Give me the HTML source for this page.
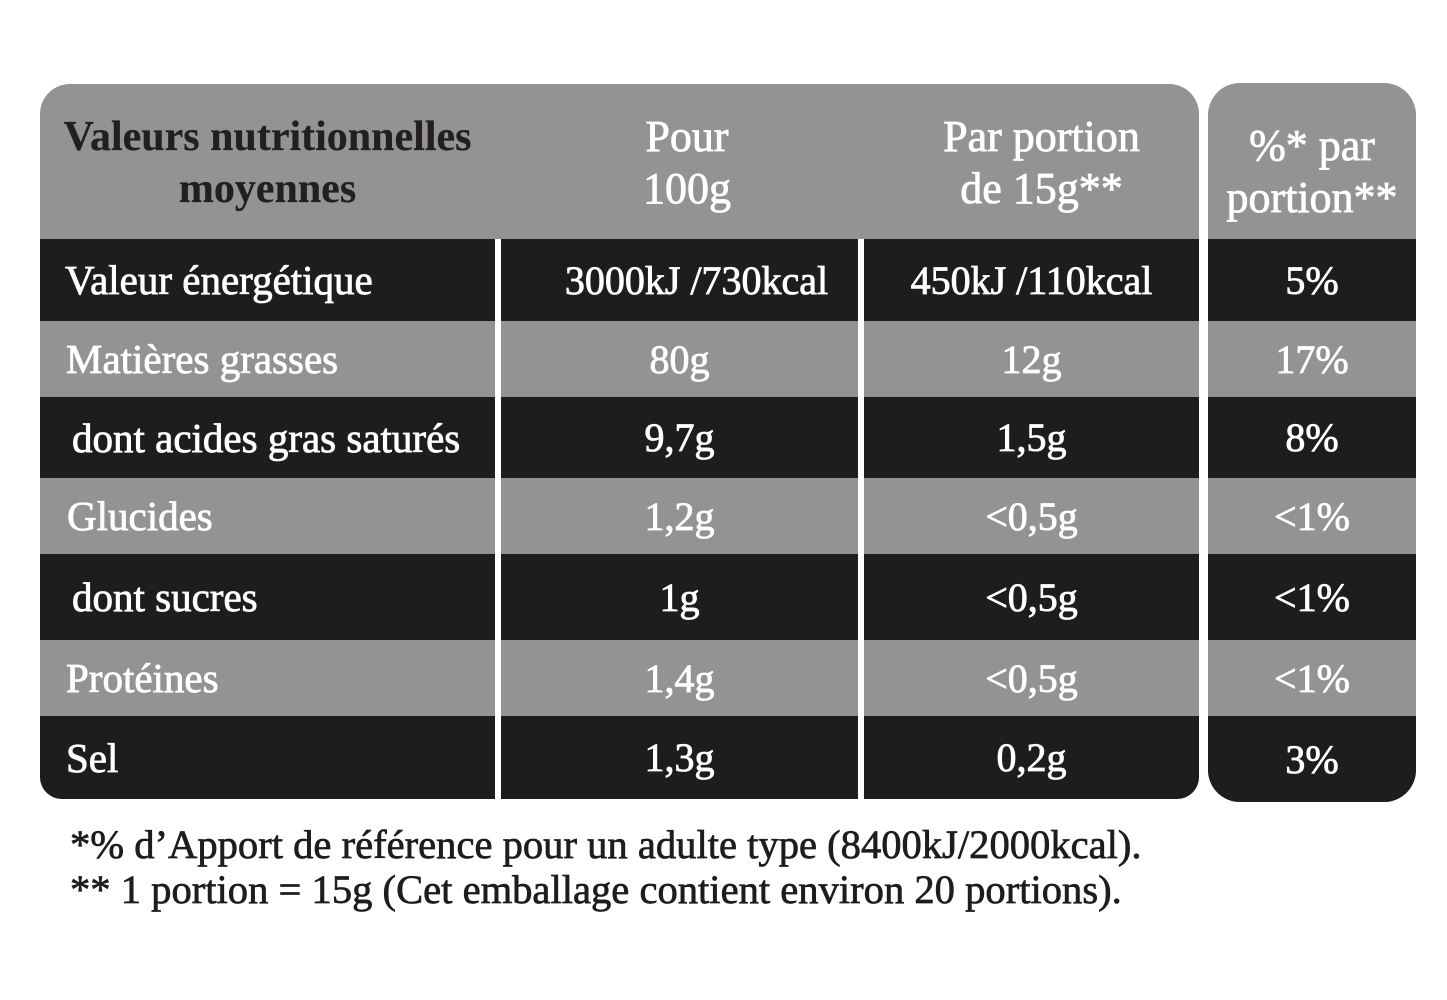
<!DOCTYPE html>
<html>
<head>
<meta charset="utf-8">
<style>
  html,body{margin:0;padding:0;background:#fff;}
  body{width:1447px;height:1000px;position:relative;overflow:hidden;
       font-family:"Liberation Serif","DejaVu Serif",serif;}
  .tbl{position:absolute;overflow:hidden;background:#939393;}
  .row{position:absolute;left:0;right:0;}
  .g{background:#939393;}
  .d{background:#1d1d1d;}
  .cell{position:absolute;top:0;bottom:0;display:flex;align-items:center;
        color:#fff;font-size:41px;white-space:nowrap;-webkit-text-stroke:0.8px #fff;}
  .c1{left:0;width:455px;}
  .c2{left:461px;width:357px;justify-content:center;font-size:40px;}
  .c3{left:824px;width:335px;justify-content:center;font-size:40px;}
  .c4{left:0;right:0;justify-content:center;font-size:40px;}
  .vdiv{position:absolute;background:#fff;width:6px;}
  .hdr{position:absolute;text-align:center;line-height:52px;white-space:nowrap;}
  .foot{position:absolute;left:70px;top:822px;font-size:40.6px;line-height:45px;color:#1d1d1d;
        white-space:nowrap;-webkit-text-stroke:0.7px #1d1d1d;}
</style>
</head>
<body>

<!-- Main table -->
<div class="tbl" style="left:40px;top:84px;width:1159px;height:715px;border-radius:30px 30px 22px 22px;">
  <!-- header -->
  <div class="hdr" style="left:0;width:455px;top:27px;font-size:42px;font-weight:bold;color:#231f20;-webkit-text-stroke:0.2px #231f20;">Valeurs nutritionnelles<br>moyennes</div>
  <div class="hdr" style="left:461px;width:372px;top:27px;font-size:44px;color:#fff;-webkit-text-stroke:0.8px #fff;">Pour<br>100g</div>
  <div class="hdr" style="left:824px;width:355px;top:27px;font-size:44px;color:#fff;-webkit-text-stroke:0.8px #fff;">Par portion<br>de 15g**</div>

  <div class="row d" style="top:155px;height:82px;">
    <div class="cell c1" style="padding-left:25px;box-sizing:border-box;">Valeur énergétique</div>
    <div class="cell c2" style="padding-left:34px;box-sizing:border-box;">3000kJ /730kcal</div>
    <div class="cell c3">450kJ /110kcal</div>
  </div>
  <div class="row g" style="top:237px;height:76px;">
    <div class="cell c1" style="padding-left:26px;box-sizing:border-box;">Matières grasses</div>
    <div class="cell c2">80g</div>
    <div class="cell c3">12g</div>
  </div>
  <div class="row d" style="top:313px;height:81px;">
    <div class="cell c1" style="padding-left:32px;box-sizing:border-box;">dont acides gras saturés</div>
    <div class="cell c2">9,7g</div>
    <div class="cell c3">1,5g</div>
  </div>
  <div class="row g" style="top:394px;height:76px;">
    <div class="cell c1" style="padding-left:27px;box-sizing:border-box;">Glucides</div>
    <div class="cell c2">1,2g</div>
    <div class="cell c3">&lt;0,5g</div>
  </div>
  <div class="row d" style="top:470px;height:86px;">
    <div class="cell c1" style="padding-left:32px;box-sizing:border-box;">dont sucres</div>
    <div class="cell c2">1g</div>
    <div class="cell c3">&lt;0,5g</div>
  </div>
  <div class="row g" style="top:556px;height:76px;">
    <div class="cell c1" style="padding-left:26px;box-sizing:border-box;">Protéines</div>
    <div class="cell c2">1,4g</div>
    <div class="cell c3">&lt;0,5g</div>
  </div>
  <div class="row d" style="top:632px;height:83px;">
    <div class="cell c1" style="padding-left:26px;box-sizing:border-box;">Sel</div>
    <div class="cell c2">1,3g</div>
    <div class="cell c3">0,2g</div>
  </div>

  <div class="vdiv" style="left:455px;top:155px;bottom:0;"></div>
  <div class="vdiv" style="left:818px;top:155px;bottom:0;"></div>
</div>

<!-- Right table -->
<div class="tbl" style="left:1208px;top:83px;width:208px;height:719px;border-radius:32px;">
  <div class="hdr" style="left:0;right:0;top:37px;font-size:44px;color:#fff;-webkit-text-stroke:0.8px #fff;">%* par<br>portion**</div>
  <div class="row d" style="top:156px;height:82px;"><div class="cell c4">5%</div></div>
  <div class="row g" style="top:238px;height:76px;"><div class="cell c4">17%</div></div>
  <div class="row d" style="top:314px;height:81px;"><div class="cell c4">8%</div></div>
  <div class="row g" style="top:395px;height:76px;"><div class="cell c4">&lt;1%</div></div>
  <div class="row d" style="top:471px;height:86px;"><div class="cell c4">&lt;1%</div></div>
  <div class="row g" style="top:557px;height:76px;"><div class="cell c4">&lt;1%</div></div>
  <div class="row d" style="top:633px;height:86px;"><div class="cell c4">3%</div></div>
</div>

<div class="foot">*% d’Apport de référence pour un adulte type (8400kJ/2000kcal).<br>** 1 portion = 15g (Cet emballage contient environ 20 portions).</div>

</body>
</html>
